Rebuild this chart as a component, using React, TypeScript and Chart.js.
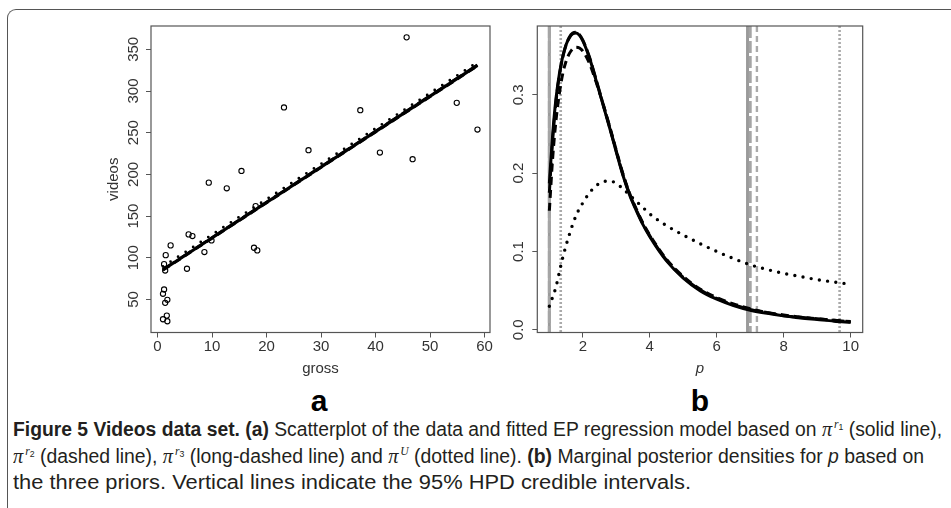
import React, { useEffect, useLayoutEffect, useRef } from "react";
import { Chart, registerables } from "chart.js";

Chart.register(...registerables);

// ---------- Panel a: scatter data ----------
const grossValues = [45.7, 23.2, 37.2, 54.9, 58.7, 27.7, 40.8, 46.8, 15.4, 9.4, 12.7, 18.0, 5.7, 6.4, 2.4, 1.5, 8.6, 9.9, 17.7, 18.3, 5.4, 1.2, 1.4, 1.2, 1.0, 1.8, 1.4, 1.7, 1.0, 1.8];
const videosValues = [364.4, 280.3, 277.0, 285.8, 253.8, 229.0, 226.2, 218.2, 204.1, 190.1, 183.3, 162.0, 128.0, 126.0, 114.8, 103.1, 106.8, 120.8, 112.0, 108.8, 86.8, 92.3, 84.7, 61.9, 56.7, 49.5, 45.9, 30.6, 26.2, 23.8];

// fitted EP regression lines (ends of each fitted line)
const fitGross = [1.0, 58.7];
const fitSolid = [85.6, 330.8];
const fitDashed = [85.0, 330.0];
const fitLongDashed = [86.0, 331.5];
const fitDotted = [89.5, 334.5];

const xTicksA = [0, 10, 20, 30, 40, 50, 60];
const yTicksA = [50, 100, 150, 200, 250, 300, 350];

// ---------- Panel b: posterior densities of p ----------
const pGrid = [1.0, 1.1, 1.2, 1.3, 1.4, 1.5, 1.6, 1.7, 1.8, 1.9, 2.0, 2.2, 2.4, 2.6, 2.8, 3.0, 3.2, 3.4, 3.6, 3.8, 4.0, 4.5, 5.0, 5.5, 6.0, 6.5, 7.0, 7.5, 8.0, 8.5, 9.0, 9.5, 10.0];
const densR1 = [0.187, 0.25, 0.296, 0.327, 0.349, 0.364, 0.373, 0.378, 0.379, 0.376, 0.369, 0.347, 0.318, 0.288, 0.258, 0.227, 0.197, 0.172, 0.152, 0.134, 0.119, 0.088, 0.066, 0.05, 0.039, 0.031, 0.025, 0.021, 0.018, 0.015, 0.013, 0.011, 0.0095];
const densR2 = [0.152, 0.22, 0.268, 0.302, 0.327, 0.343, 0.353, 0.359, 0.361, 0.36, 0.356, 0.34, 0.316, 0.289, 0.26, 0.229, 0.199, 0.174, 0.154, 0.136, 0.121, 0.09, 0.068, 0.052, 0.041, 0.033, 0.027, 0.022, 0.019, 0.016, 0.014, 0.012, 0.0105];
const densR3 = [0.175, 0.243, 0.292, 0.325, 0.348, 0.364, 0.374, 0.379, 0.38, 0.377, 0.37, 0.348, 0.319, 0.289, 0.259, 0.228, 0.198, 0.173, 0.153, 0.135, 0.12, 0.089, 0.067, 0.051, 0.04, 0.032, 0.026, 0.022, 0.018, 0.016, 0.014, 0.012, 0.01];
const densU = [0.03, 0.042, 0.055, 0.074, 0.092, 0.108, 0.122, 0.135, 0.146, 0.155, 0.162, 0.175, 0.184, 0.189, 0.19, 0.187, 0.18, 0.172, 0.164, 0.156, 0.148, 0.133, 0.121, 0.11, 0.1, 0.091, 0.083, 0.077, 0.072, 0.068, 0.064, 0.061, 0.058];

// 95% HPD intervals: r1 (solid), r2 (dashed), r3 (long-dashed), U (dotted)
const hpdLower = [1.0, 1.0, 1.0, 1.34];
const hpdUpper = [6.92, 7.2, 7.0, 9.67];

const xTicksB = [2, 4, 6, 8, 10];
const yTicksB = [0, 0.1, 0.2, 0.3];

// ---------- styling ----------
const AXIS_FONT = "'Liberation Sans', Arial, sans-serif";
const TEXT = "#333";
const FRAME = "#555";

const boxPlugin = {
  id: "rbox",
  afterDraw(chart: any) {
    const { ctx, chartArea: a } = chart;
    ctx.save();
    ctx.strokeStyle = FRAME;
    ctx.lineWidth = 1.2;
    ctx.strokeRect(a.left, a.top, a.right - a.left, a.bottom - a.top);
    ctx.restore();
  },
};

const hpdStyles = [
  { dash: [] as number[], color: "#9a9a9a", width: 3 },
  { dash: [6, 4], color: "#aaaaaa", width: 2.4 },
  { dash: [12, 3], color: "#a5a5a5", width: 3 },
  { dash: [2, 2], color: "#aaaaaa", width: 2.6 },
];

const hpdPlugin = {
  id: "hpd",
  beforeDatasetsDraw(chart: any) {
    const { ctx, chartArea: a, scales } = chart;
    const xs = scales.x;
    ctx.save();
    ctx.beginPath();
    ctx.rect(a.left, a.top, a.right - a.left, a.bottom - a.top);
    ctx.clip();
    hpdLower.forEach((lo, i) => {
      const st = hpdStyles[i];
      [lo, hpdUpper[i]].forEach((v) => {
        const px = xs.getPixelForValue(v);
        ctx.beginPath();
        ctx.setLineDash(st.dash);
        ctx.strokeStyle = st.color;
        ctx.lineWidth = st.width;
        ctx.moveTo(px, a.top);
        ctx.lineTo(px, a.bottom);
        ctx.stroke();
      });
    });
    ctx.restore();
  },
};

function tickFont() {
  return { family: AXIS_FONT, size: 15 };
}

function xAxis(min: number, max: number, ticks: number[], title: any, fmt: (v: number) => string) {
  return {
    type: "linear" as const,
    min,
    max,
    afterBuildTicks: (s: any) => {
      s.ticks = ticks.map((v) => ({ value: v }));
    },
    afterFit: (s: any) => {
      s.height = 45.1;
    },
    ticks: {
      autoSkip: false,
      maxRotation: 0,
      minRotation: 0,
      padding: 0,
      font: tickFont(),
      color: TEXT,
      callback: (v: any) => fmt(Number(v)),
    },
    grid: { display: true, drawOnChartArea: false, drawTicks: true, tickLength: 5, color: FRAME, lineWidth: 1 },
    border: { display: false },
    title,
  };
}

function yAxis(min: number, max: number, ticks: number[], width: number, pad: number, title: any, fmt: (v: number) => string) {
  return {
    type: "linear" as const,
    min,
    max,
    afterBuildTicks: (s: any) => {
      s.ticks = ticks.map((v) => ({ value: v }));
    },
    afterFit: (s: any) => {
      s.width = width;
    },
    ticks: {
      autoSkip: false,
      minRotation: 90,
      maxRotation: 90,
      crossAlign: "center" as const,
      padding: pad,
      font: tickFont(),
      color: TEXT,
      callback: (v: any) => fmt(Number(v)),
    },
    grid: { display: true, drawOnChartArea: false, drawTicks: true, tickLength: 5, color: FRAME, lineWidth: 1 },
    border: { display: false },
    title,
  };
}

function pairs(xs: number[], ys: number[]) {
  return xs.map((x, i) => ({ x, y: ys[i] }));
}

function PanelA() {
  const ref = useRef<HTMLCanvasElement>(null);
  useEffect(() => {
    const lineBase = { showLine: true, pointRadius: 0, borderColor: "#000", fill: false };
    const chart = new Chart(ref.current!, {
      type: "scatter",
      data: {
        datasets: [
          { ...lineBase, label: "r1", data: pairs(fitGross, fitSolid), borderWidth: 3.2 },
          { ...lineBase, label: "r2", data: pairs(fitGross, fitDashed), borderWidth: 2.6, borderDash: [8, 5] },
          { ...lineBase, label: "r3", data: pairs(fitGross, fitLongDashed), borderWidth: 2.6, borderDash: [14, 5] },
          { ...lineBase, label: "U", data: pairs(fitGross, fitDotted), borderWidth: 2.8, borderDash: [0, 9], borderCapStyle: "round" },
          {
            label: "data",
            data: pairs(grossValues, videosValues),
            pointRadius: 2.6,
            pointBorderWidth: 1.1,
            pointBorderColor: "#000",
            pointBackgroundColor: "rgba(0,0,0,0)",
            showLine: false,
          },
        ] as any,
      },
      options: {
        responsive: false,
        animation: false,
        layout: { padding: { left: 0, top: 26, right: 10, bottom: 2.4 } },
        plugins: { legend: { display: false }, tooltip: { enabled: false } },
        scales: {
          x: xAxis(-1.2, 61, xTicksA, { display: true, text: "gross", color: TEXT, font: tickFont(), padding: { top: 0, bottom: 0 } }, (v) => String(v)),
          y: yAxis(10.3, 378, yTicksA, 151, 0, { display: true, text: "videos", color: TEXT, font: tickFont(), padding: { top: 105, bottom: 0 } }, (v) => String(v)),
        },
      } as any,
      plugins: [boxPlugin],
    });
    return () => chart.destroy();
  }, []);
  return <canvas ref={ref} width={500} height={380} style={{ position: "absolute", left: 0, top: 0, display: "block" }} />;
}

function PanelB() {
  const ref = useRef<HTMLCanvasElement>(null);
  useEffect(() => {
    const base = { showLine: true, pointRadius: 0, borderColor: "#000", fill: false, tension: 0.4, cubicInterpolationMode: "monotone" };
    const chart = new Chart(ref.current!, {
      type: "scatter",
      data: {
        datasets: [
          { ...base, label: "r1", data: pairs(pGrid, densR1), borderWidth: 3 },
          { ...base, label: "r2", data: pairs(pGrid, densR2), borderWidth: 3, borderDash: [8, 5] },
          { ...base, label: "r3", data: pairs(pGrid, densR3), borderWidth: 3, borderDash: [13, 4] },
          { ...base, label: "U", data: pairs(pGrid, densU), borderWidth: 3.4, borderDash: [0, 8.3], borderCapStyle: "round" },
        ] as any,
      },
      options: {
        responsive: false,
        animation: false,
        layout: { padding: { left: 0, top: 26, right: 88.3, bottom: 2.4 } },
        plugins: { legend: { display: false }, tooltip: { enabled: false } },
        scales: {
          x: xAxis(0.64, 10.36, xTicksB, { display: true, text: "p", color: TEXT, font: { family: AXIS_FONT, size: 15, style: "italic" }, padding: { top: 0, bottom: 0 } }, (v) => String(v)),
          y: yAxis(-0.0035, 0.388, yTicksB, 97.3, 3, { display: false }, (v) => v.toFixed(1)),
        },
      } as any,
      plugins: [hpdPlugin, boxPlugin],
    });
    return () => chart.destroy();
  }, []);
  return <canvas ref={ref} width={511} height={380} style={{ position: "absolute", left: 440, top: 0, display: "block" }} />;
}

const CAP_FONT = "'Liberation Sans', Arial, sans-serif";

function Pi({ sup, sub }: { sup: string; sub?: string }) {
  return (
    <span>
      <span style={{ fontFamily: "'Liberation Serif', serif", fontStyle: "italic", fontSize: 21 }}>π</span>
      <sup style={{ fontSize: 12, verticalAlign: 8, marginLeft: 2, lineHeight: 0 }}>
        <i style={{ fontFamily: "'Liberation Serif', serif" }}>{sup}</i>
        {sub ? <span style={{ fontSize: 9, verticalAlign: -2 }}>{sub}</span> : null}
      </sup>
    </span>
  );
}

// caption line stretched/squeezed horizontally to the reference line width
function FitLine({ target, children }: { target: number; children: React.ReactNode }) {
  const ref = useRef<HTMLSpanElement>(null);
  useLayoutEffect(() => {
    const el = ref.current!;
    const w = el.getBoundingClientRect().width;
    if (w > 0) el.style.transform = `scaleX(${target / w})`;
  }, [target]);
  return (
    <div style={{ height: 26.5, lineHeight: "26.5px", whiteSpace: "nowrap" }}>
      <span ref={ref} style={{ display: "inline-block", transformOrigin: "0 0" }}>
        {children}
      </span>
    </div>
  );
}

export default function App() {
  const panelLabel = (text: string, cx: number) => (
    <div
      style={{
        position: "absolute",
        left: cx - 30,
        top: 383,
        width: 60,
        textAlign: "center",
        font: "bold 30px 'Liberation Sans', Arial, sans-serif",
        color: "#000",
        lineHeight: "36px",
      }}
    >
      {text}
    </div>
  );
  return (
    <div style={{ position: "absolute", left: 0, top: 0, width: 951, height: 508, overflow: "hidden", background: "#fff" }}>
      <div
        style={{
          position: "absolute",
          left: 7,
          top: 9,
          width: 1100,
          height: 700,
          borderTop: "1.5px solid #555",
          borderLeft: "1.5px solid #555",
          borderTopLeftRadius: 9,
        }}
      />
      <PanelA />
      <PanelB />
      {panelLabel("a", 319)}
      {panelLabel("b", 700)}
      <div
        style={{
          position: "absolute",
          left: 13,
          top: 416,
          fontFamily: CAP_FONT,
          fontSize: 20,
          color: "#231f20",
        }}
      >
        <FitLine target={929}>
          <b>Figure 5 Videos data set.</b> <b>(a)</b> Scatterplot of the data and fitted EP regression model based on <Pi sup="r" sub="1" /> (solid line),
        </FitLine>
        <FitLine target={911}>
          <Pi sup="r" sub="2" /> (dashed line), <Pi sup="r" sub="3" /> (long-dashed line) and <Pi sup="U" /> (dotted line). <b>(b)</b> Marginal posterior densities for <i>p</i> based on
        </FitLine>
        <FitLine target={678}>the three priors. Vertical lines indicate the 95% HPD credible intervals.</FitLine>
      </div>
    </div>
  );
}
